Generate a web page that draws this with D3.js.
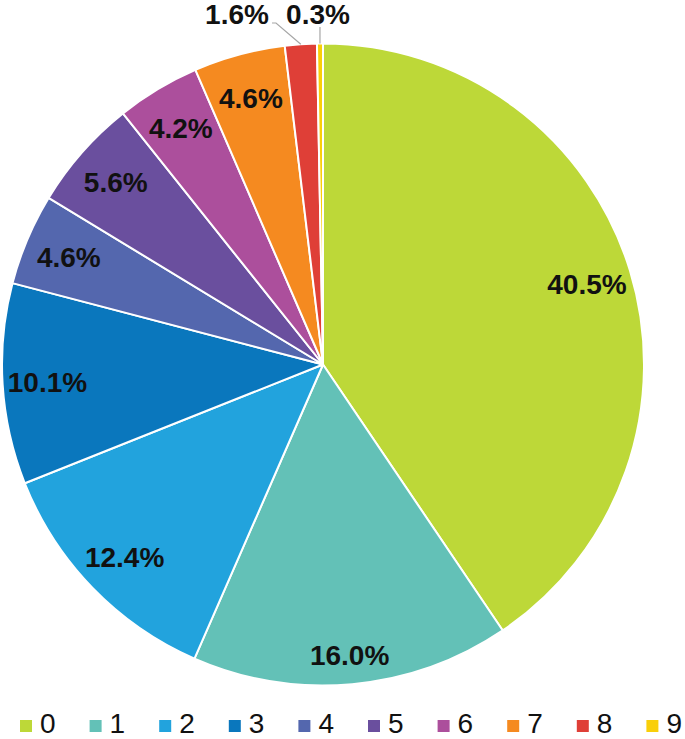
<!DOCTYPE html>
<html>
<head>
<meta charset="utf-8">
<script src="https://cdn.jsdelivr.net/npm/d3@7"></script>
<style>
  body { margin: 0; background: #fff; }
  svg { display: block; }
</style>
</head>
<body>
<div id="chart"></div>
<script>
'use strict';
// chart data
const categories = ['0', '1', '2', '3', '4', '5', '6', '7', '8', '9'];
const shares = [40.5, 16.0, 12.4, 10.1, 4.6, 5.6, 4.2, 4.6, 1.6, 0.3];
const colors = ['#bdd838', '#63c1b7', '#22a3dd', '#0a77bd', '#5467ae',
                '#6a4f9e', '#ac4f9c', '#f58a20', '#df3f37', '#f9cf0a'];

const width = 685, height = 739;
const cx = 323, cy = 364.5, radius = 321;
const font = '"Liberation Sans", Arial, sans-serif';
const labelStyle = 'font-family: ' + font + '; font-weight: bold; font-size: 28px;';

const svg = d3.select('#chart').append('svg')
  .attr('width', width)
  .attr('height', height);

const rows = categories.map((c, i) => ({ name: c, value: shares[i], idx: i }));

const pie = d3.pie()
  .value(d => d.value)
  .sort(null);

const arc = d3.arc()
  .innerRadius(0)
  .outerRadius(radius);

const arcs = pie(rows);

const g = svg.append('g')
  .attr('transform', 'translate(' + cx + ',' + cy + ')');

g.selectAll('path.slice')
  .data(arcs)
  .enter().append('path')
  .attr('class', 'slice')
  .attr('d', arc)
  .attr('fill', d => colors[d.data.idx])
  .attr('stroke', '#fff')
  .attr('stroke-width', 2)
  .attr('stroke-linejoin', 'round');

// labels inside the bigger slices
const labelFactor = d => d.data.idx === 1 ? 0.91 : 0.86;
const inside = arcs.filter(d => d.data.value >= 3);

g.selectAll('text.inner')
  .data(inside)
  .enter().append('text')
  .attr('class', 'inner')
  .attr('transform', d => {
    const a = (d.startAngle + d.endAngle) / 2;
    const r = radius * labelFactor(d);
    return 'translate(' + (Math.sin(a) * r) + ',' + (-Math.cos(a) * r) + ')';
  })
  .attr('text-anchor', 'middle')
  .attr('dy', '0.36em')
  .attr('style', labelStyle)
  .attr('fill', '#111')
  .text(d => d.data.value.toFixed(1) + '%');

// small slices: labels above the pie with leader lines
const outside = arcs.filter(d => d.data.value < 3);
const labelY = -radius - 29.5;

outside.forEach(d => {
  const a = (d.startAngle + d.endAngle) / 2;
  const ex = Math.sin(a) * radius, ey = -Math.cos(a) * radius;
  let tx, pts;
  if (d.data.idx === 8) {
    tx = -86;
    pts = [[tx + 35, labelY + 9], [tx + 39, labelY + 9], [ex, ey]];
  } else {
    tx = ex - 2;
    pts = [[ex, labelY + 13], [ex, ey]];
  }
  g.append('polyline')
    .attr('points', pts.map(p => p.join(',')).join(' '))
    .attr('fill', 'none')
    .attr('stroke', '#a6a6a6')
    .attr('stroke-width', 1.2);
  g.append('text')
    .attr('x', tx)
    .attr('y', labelY)
    .attr('text-anchor', 'middle')
    .attr('dy', '0.36em')
    .attr('style', labelStyle)
    .attr('fill', '#111')
    .text(d.data.value.toFixed(1) + '%');
});

// legend
const legendX = d3.scaleBand()
  .domain(categories)
  .range([20, 20 + 69.6 * categories.length]);

const legend = svg.append('g')
  .attr('class', 'legend')
  .attr('transform', 'translate(0,' + 720 + ')');

const item = legend.selectAll('g')
  .data(categories)
  .enter().append('g')
  .attr('transform', d => 'translate(' + legendX(d) + ',0)');

item.append('rect')
  .attr('width', 12)
  .attr('height', 12)
  .attr('fill', (d, i) => colors[i]);

item.append('text')
  .attr('x', 20)
  .attr('y', 13)
  .attr('style', 'font-family: ' + font + '; font-size: 28px;')
  .attr('fill', '#111')
  .text(d => d);
</script>
</body>
</html>
